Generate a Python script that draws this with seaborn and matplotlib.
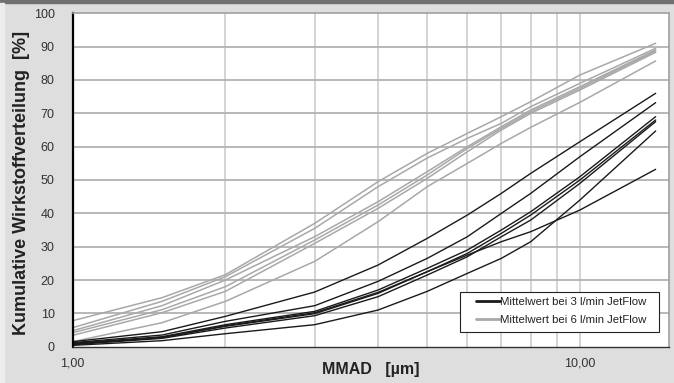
import pandas as pd
import numpy as np
import matplotlib
matplotlib.use('Agg')
import matplotlib.pyplot as plt
import seaborn as sns
from matplotlib.lines import Line2D
from matplotlib.patches import Rectangle
from matplotlib.legend_handler import HandlerLine2D
from matplotlib.ticker import FixedLocator, NullFormatter

sns.set_style('white')
plt.rcParams['font.family'] = ['Liberation Sans', 'DejaVu Sans']

# MMAD sampling points [um]
mmad = [1, 1.5, 2, 3, 4, 5, 6, 7, 8, 10, 14.1]

# cumulative distribution [%], 3 l/min JetFlow (black)
b1 = [1.5, 4.5, 9.1, 16.4, 24.5, 32.5, 39.5, 46.0, 52.0, 61.5, 76.0]
b2 = [1.2, 3.5, 7.6, 12.3, 19.6, 26.5, 33.0, 40.0, 46.0, 57.0, 73.2]
b3 = [1.0, 3.0, 6.6, 10.6, 17.0, 23.5, 29.0, 35.0, 40.5, 51.0, 69.0]
b4 = [0.8, 2.8, 6.1, 9.9, 16.0, 22.5, 28.0, 34.0, 39.5, 50.0, 68.0]
b5 = [0.6, 2.5, 5.6, 9.3, 15.0, 21.5, 27.0, 33.0, 38.0, 49.0, 67.5]
b6 = [0.4, 1.8, 3.9, 6.6, 11.0, 16.6, 22.0, 26.5, 31.5, 44.0, 64.7]
b7 = [0.9, 2.7, 6.3, 10.2, 16.3, 22.5, 27.5, 31.5, 34.5, 41.0, 53.2]

# cumulative distribution [%], 6 l/min JetFlow (grey)
g1 = [7.8, 14.7, 21.6, 37.0, 49.5, 58.0, 64.0, 69.0, 73.5, 81.5, 91.0]
g2 = [5.7, 13.6, 21.0, 35.5, 48.0, 56.6, 62.5, 67.0, 72.0, 79.0, 89.5]
g3 = [4.8, 12.3, 20.0, 33.0, 43.5, 52.5, 60.0, 66.0, 71.0, 78.0, 89.0]
g4 = [4.2, 11.1, 18.0, 32.0, 42.5, 51.5, 59.5, 65.5, 70.5, 77.5, 88.7]
g5 = [3.4, 10.2, 16.6, 31.0, 41.5, 50.5, 58.5, 65.0, 70.0, 77.0, 88.3]
g6 = [1.5, 7.2, 13.6, 25.6, 37.5, 48.0, 55.0, 61.0, 65.8, 73.3, 85.7]

black_runs = [b1, b2, b3, b4, b5, b6, b7]
grey_runs = [g1, g2, g3, g4, g5, g6]

rows = []
for i, run in enumerate(black_runs):
    for x, y in zip(mmad, run):
        rows.append(('3', f'b{i}', x, y))
for i, run in enumerate(grey_runs):
    for x, y in zip(mmad, run):
        rows.append(('6', f'g{i}', x, y))
df = pd.DataFrame(rows, columns=['flow', 'run', 'mmad', 'cum'])

BLACK = '#1a1a1a'
GREY = '#a8a8a8'


# legend line drawn only in the right part of the handle box
class ShortLine(HandlerLine2D):
    def create_artists(self, legend, orig_handle, xdescent, ydescent,
                       width, height, fontsize, trans):
        arts = super().create_artists(legend, orig_handle, xdescent, ydescent,
                                      width, height, fontsize, trans)
        x0 = -xdescent
        yc = np.asarray(arts[0].get_ydata())[0]
        arts[0].set_data([x0 + width * 0.4, x0 + width], [yc, yc])
        return arts


fig = plt.figure(figsize=(6.74, 3.83), dpi=100)
fig.patch.set_facecolor('#dedede')
fig.add_artist(Rectangle((0, 1 - 2.5 / 383), 1, 2.5 / 383,
                         transform=fig.transFigure, color='#707070'))
fig.add_artist(Rectangle((0, 0), 4 / 674, 1 - 2.5 / 383,
                         transform=fig.transFigure, color='#ececec'))
ax = fig.add_axes([0.1079, 0.0948, 0.993 - 0.1079, 0.9653 - 0.0948])
ax.set_facecolor('white')

# grey first so black sits on top
sns.lineplot(data=df[df['flow'] == '6'], x='mmad', y='cum', units='run',
             estimator=None, color=GREY, lw=1.1, legend=False, ax=ax)
sns.lineplot(data=df[df['flow'] == '3'], x='mmad', y='cum', units='run',
             estimator=None, color=BLACK, lw=1.0, legend=False, ax=ax)

ax.set_xscale('log')
ax.set_xlim(1, 15)
ax.set_ylim(0, 100)
ax.xaxis.set_major_locator(FixedLocator([1, 10]))
ax.set_xticklabels(['1,00', '10,00'])
ax.xaxis.set_minor_locator(FixedLocator([2, 3, 4, 5, 6, 7, 8, 9]))
ax.xaxis.set_minor_formatter(NullFormatter())
ax.set_yticks(np.arange(0, 101, 10))

# grid
for v in [2, 3, 4, 5, 6, 7, 8, 9, 10]:
    ax.axvline(v, color='#d0d0d0', lw=1.3, zorder=0)
for h in range(10, 100, 10):
    ax.axhline(h, color='#b2b2b2', lw=1.3, zorder=0)

for s in ['top', 'right']:
    ax.spines[s].set_color('#a0a0a0')
    ax.spines[s].set_linewidth(1.2)
ax.spines['left'].set_color('black')
ax.spines['left'].set_linewidth(1.6)
ax.spines['bottom'].set_color('#333333')
ax.spines['bottom'].set_linewidth(1.0)

ax.tick_params(axis='both', which='both', direction='out', color='black',
               labelsize=9, labelcolor='#333333')
ax.tick_params(axis='y', length=3, width=1, pad=10)
ax.tick_params(axis='x', which='major', length=3, width=1, pad=5)
ax.tick_params(axis='x', which='minor', length=3, width=1)

ax.set_xlabel('MMAD   [µm]', fontsize=11.5, fontweight='bold', color='#222222')
ax.xaxis.set_label_coords(0.5, -0.047)
ax.set_ylabel('Kumulative Wirkstoffverteilung  [%]', fontsize=13,
              fontweight='bold', color='#222222')
ax.yaxis.set_label_coords(-0.072, 0.49)

# legend box drawn by hand, legend entries placed inside it
ax.add_patch(Rectangle((0.649, 0.044), 0.983 - 0.649, 0.164 - 0.044,
                       transform=ax.transAxes, facecolor='white',
                       edgecolor='#222222', lw=0.8, zorder=5))
handles = [Line2D([], [], color=BLACK, lw=2.0),
           Line2D([], [], color=GREY, lw=2.0)]
leg = ax.legend(handles, ['Mittelwert bei 3 l/min JetFlow',
                          'Mittelwert bei 6 l/min JetFlow'],
                handler_map={Line2D: ShortLine()},
                loc='upper left', bbox_to_anchor=(0.649, 0.150),
                fontsize=8.2, frameon=False,
                handlelength=3.5, handletextpad=0.05, borderpad=0,
                labelspacing=0.72, borderaxespad=0)
leg.set_zorder(6)
for t in leg.get_texts():
    t.set_color('#222222')

fig.savefig('out.png', dpi=100, facecolor=fig.get_facecolor())
